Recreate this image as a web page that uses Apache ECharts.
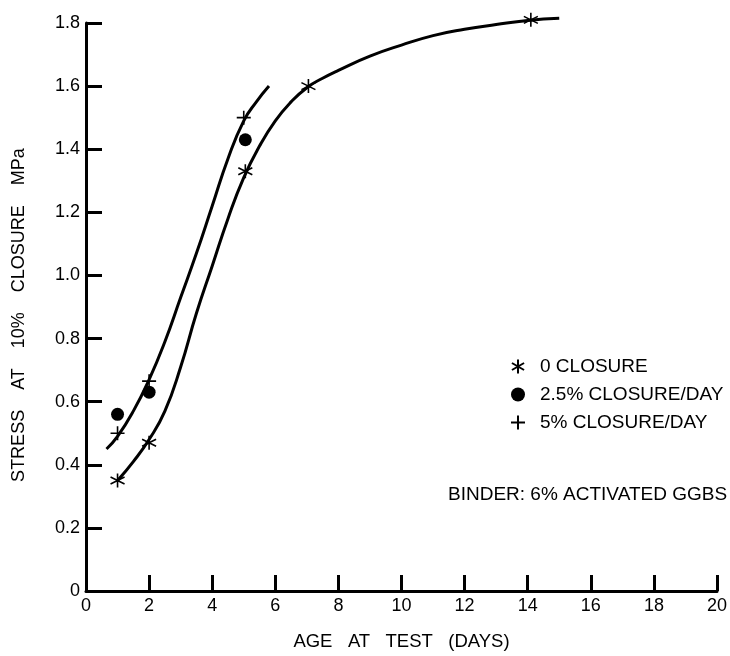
<!DOCTYPE html>
<html>
<head>
<meta charset="utf-8">
<script src="https://cdn.jsdelivr.net/npm/echarts@6/dist/echarts.min.js"></script>
<style>
html,body{margin:0;padding:0;background:#fff;}
#chart{width:730px;height:656px;}
</style>
</head>
<body>
<div id="chart"></div>
<script>
// Data
var zeroClosure = [[1.0, 0.35], [2.0, 0.47], [5.05, 1.33], [7.05, 1.60], [14.1, 1.81]];
var closure25 = [[1.0, 0.56], [2.0, 0.63], [5.05, 1.43]];
var closure5 = [[1.0, 0.50], [2.0, 0.665], [5.0, 1.50]];
var upperCurve = [[0.65, 0.45], [1.0, 0.49], [1.5, 0.57], [2.0, 0.67], [2.5, 0.79], [3.0, 0.93], [3.5, 1.07], [4.0, 1.22], [4.5, 1.37], [5.0, 1.49], [5.4, 1.55], [5.8, 1.60]];
var lowerCurve = [[1.0, 0.35], [1.5, 0.41], [2.0, 0.48], [2.5, 0.57], [3.0, 0.71], [3.5, 0.88], [4.0, 1.03], [4.5, 1.18], [5.0, 1.31], [5.5, 1.41], [6.0, 1.49], [6.5, 1.55], [7.0, 1.595], [7.5, 1.625], [8.0, 1.65], [9.0, 1.695], [10.0, 1.73], [11.0, 1.76], [12.0, 1.78], [13.0, 1.795], [14.0, 1.808], [15.0, 1.815]];
var seriesNames = ['0 CLOSURE', '2.5% CLOSURE/DAY', '5% CLOSURE/DAY'];
var xTitle = 'AGE   AT   TEST   (DAYS)';
var yTitle = 'STRESS    AT    10%    CLOSURE    MPa';
var noteText = 'BINDER: 6% ACTIVATED GGBS';

var FONT = '"Liberation Sans", Arial, Helvetica, sans-serif';
var asterisk = 'path://M5,0L5,10M0.67,2.5L9.33,7.5M0.67,7.5L9.33,2.5';
var plus = 'path://M0,5L10,5M5,0L5,10';

var chart = echarts.init(document.getElementById('chart'), null, {renderer: 'canvas'});
chart.setOption({
  backgroundColor: '#fff',
  animation: false,
  textStyle: {fontFamily: FONT, color: '#000'},
  grid: {left: 86, right: 11, top: 23, bottom: 64},
  xAxis: {
    type: 'value', min: 0, max: 20, interval: 2,
    name: xTitle, nameLocation: 'middle', nameGap: 41,
    nameTextStyle: {fontSize: 18.5, color: '#000', fontFamily: FONT},
    axisLine: {lineStyle: {color: '#000', width: 3}},
    axisTick: {inside: true, length: 16, lineStyle: {color: '#000', width: 3}},
    axisLabel: {fontSize: 18, color: '#000', margin: 6, fontFamily: FONT},
    splitLine: {show: false}
  },
  yAxis: {
    type: 'value', min: 0, max: 1.8, interval: 0.2,
    name: yTitle, nameLocation: 'middle', nameGap: 58, nameRotate: 90,
    nameTextStyle: {fontSize: 18, color: '#000', fontFamily: FONT, padding: [0, 16, 0, 0]},
    axisLine: {show: true, lineStyle: {color: '#000', width: 3}},
    axisTick: {show: true, inside: true, length: 16, lineStyle: {color: '#000', width: 3}},
    axisLabel: {fontSize: 18, color: '#000', margin: 6, fontFamily: FONT,
      formatter: function (v) { return v === 0 ? '0' : v.toFixed(1); }},
    splitLine: {show: false}
  },
  legend: {
    orient: 'vertical', left: 505, top: 352,
    itemWidth: 14, itemHeight: 14, itemGap: 9,
    data: seriesNames,
    textStyle: {fontSize: 19, color: '#000', fontFamily: FONT, padding: [0, 0, 0, 10]},
    selectedMode: false
  },
  graphic: [{
    type: 'text', left: 448, top: 485,
    style: {text: noteText, fontSize: 19, fill: '#000', fontFamily: FONT}
  }],
  series: [
    {name: 'upper fit', type: 'line', data: upperCurve, showSymbol: false, symbol: 'none',
     smooth: 0.5, clip: false, lineStyle: {color: '#000', width: 3}, z: 1, silent: true},
    {name: 'lower fit', type: 'line', data: lowerCurve, showSymbol: false, symbol: 'none',
     smooth: 0.5, clip: false, lineStyle: {color: '#000', width: 3}, z: 1, silent: true},
    {name: seriesNames[0], type: 'scatter', data: zeroClosure, symbol: asterisk, symbolSize: 14, clip: false,
     itemStyle: {color: '#000', borderColor: '#000', borderWidth: 1.6, opacity: 1}, z: 3},
    {name: seriesNames[1], type: 'scatter', data: closure25, symbol: 'circle', symbolSize: 13, clip: false,
     itemStyle: {color: '#000', opacity: 1}, z: 3},
    {name: seriesNames[2], type: 'scatter', data: closure5, symbol: plus, symbolSize: 14, clip: false,
     itemStyle: {color: '#000', borderColor: '#000', borderWidth: 1.6, opacity: 1}, z: 3}
  ]
});
</script>
</body>
</html>
